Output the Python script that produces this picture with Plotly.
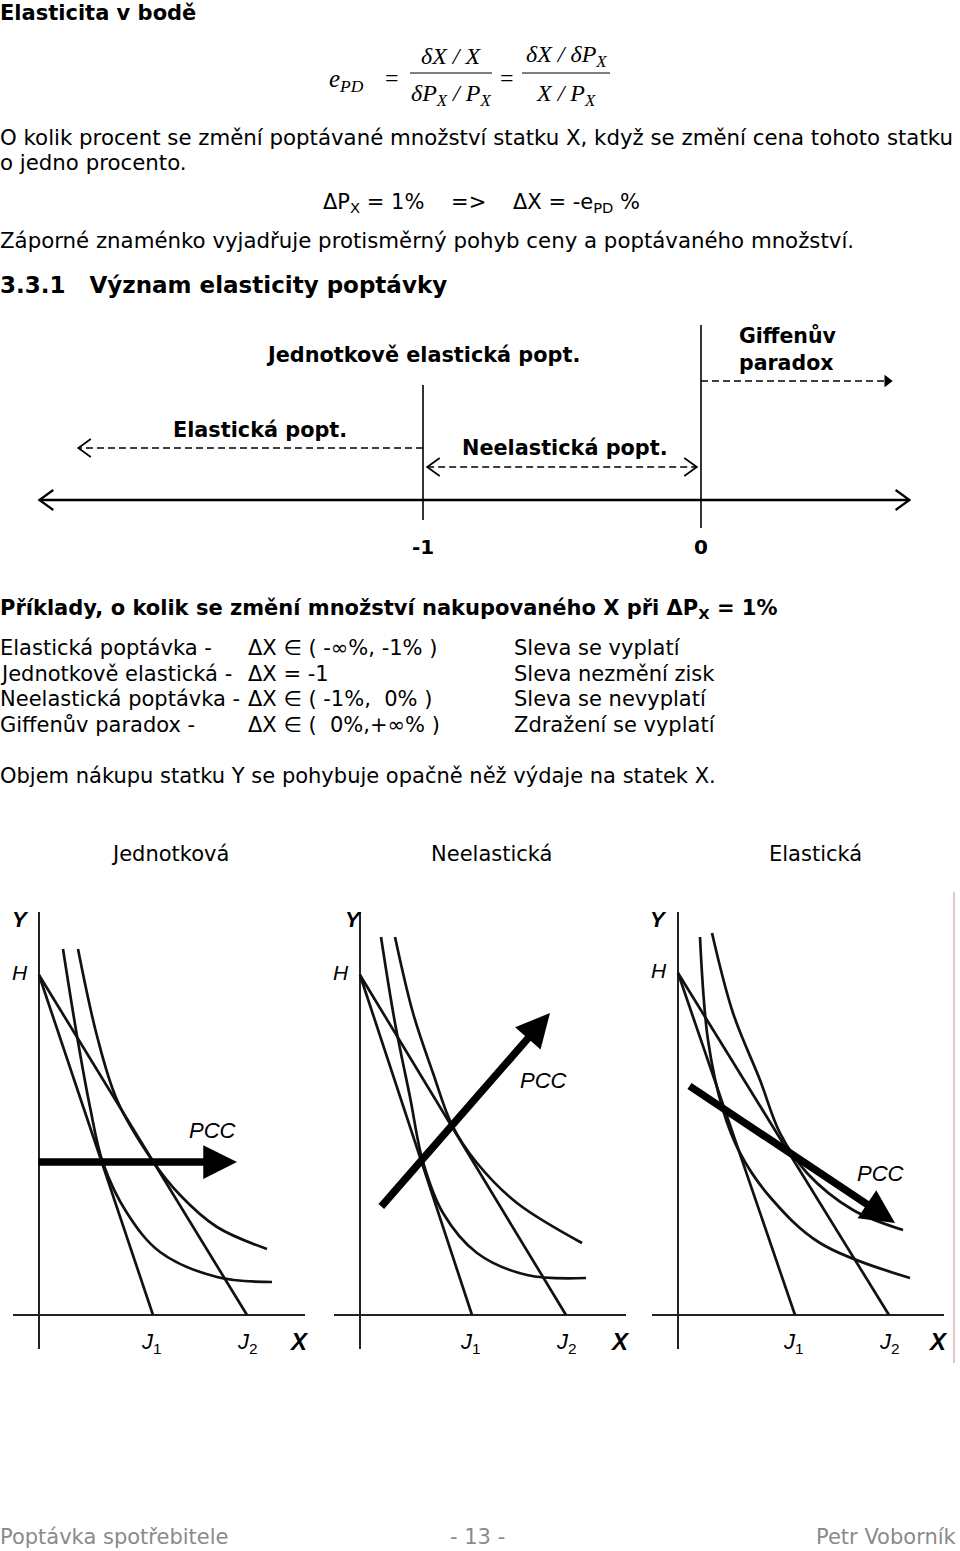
import plotly.graph_objects as go

W, H = 960, 1551

# --- data ---
thresholds = [-1, 0]
threshold_labels = ["-1", "0"]
number_line = [-2.38, 0.75]
elastic_arrow = [-1, -2.24]
inelastic_arrow = [-0.985, -0.015]
giffen_arrow = [0, 0.67]

table_rows = [
    ["Elastická poptávka -", "ΔX ∈ ( -∞%, -1% )", "Sleva se vyplatí"],
    ["Jednotkově elastická -", "ΔX = -1", "Sleva nezmění zisk"],
    ["Neelastická poptávka -", "ΔX ∈ ( -1%,  0% )", "Sleva se nevyplatí"],
    ["Giffenův paradox -", "ΔX ∈ (  0%,+∞% )", "Zdražení se vyplatí"],
]

panel_titles = ["Jednotková", "Neelastická", "Elastická"]
h_values = [34.0, 34.0, 34.2]
j1_values = [11.4, 11.2, 11.7]
j2_values = [20.8, 20.6, 21.1]

ic1_x = [[2.4, 3.8, 5.1, 6.4, 8.8, 12.1, 17.8, 23.3],
         [2.1, 3.5, 5.0, 6.3, 8.3, 11.7, 16.7, 22.6],
         [2.2, 3.0, 4.5, 6.2, 9.2, 14.2, 23.2]]
ic1_y = [[36.6, 27.9, 20.8, 15.2, 10.2, 6.3, 3.8, 3.3],
         [37.8, 29.2, 21.8, 15.3, 10.2, 6.2, 4.0, 3.7],
         [37.8, 27.5, 20.5, 16.2, 11.8, 7.2, 3.7]]
ic2_x = [[3.9, 5.8, 7.8, 11.3, 14.1, 17.8, 22.8],
         [3.5, 5.3, 7.3, 9.2, 11.7, 15.7, 22.2],
         [3.4, 5.5, 8.2, 10.2, 12.9, 17.5, 22.5]]
ic2_y = [[36.6, 27.9, 21.5, 15.5, 12.0, 8.8, 6.6],
         [37.8, 30.2, 24.2, 19.0, 15.2, 11.2, 7.2],
         [38.2, 30.2, 23.5, 18.2, 14.2, 10.5, 8.5]]
pcc_start = [(-0.2, 15.3), (2.0, 10.7), (1.0, 23.0)]
pcc_end = [(19.8, 15.3), (19.0, 30.2), (21.7, 9.2)]
pcc_label = [(17.3, 18.5), (18.3, 23.5), (20.2, 14.2)]
y_label_x = [-1.9, -0.7, -2.0]

# --- page helpers ---
BODY = "DejaVu Sans, Verdana, sans-serif"
SERIF = "Liberation Serif, Times New Roman, serif"
ARIAL = "Liberation Sans, Arial, sans-serif"
NB = "\u00a0"
FS = 21


def px(x):
    return x / W


def py(y):
    return 1 - y / H


annotations = []
shapes = []


def txt(x, y, s, size=FS, family=BODY, color="black", anchor="left"):
    annotations.append(dict(xref="paper", yref="paper", x=px(x), y=py(y), text=s.replace("  ", NB * 2),
                            showarrow=False, xanchor=anchor, yanchor="middle", borderpad=0,
                            font=dict(family=family, size=size, color=color)))


fig = go.Figure()

# header + formula
txt(-1, 13, "<b>Elasticita v bodě</b>", size=21)
txt(328, 80, "<i>e</i><sub><i>PD</i></sub>", size=25, family=SERIF)
txt(392, 78, "=", size=24, family=SERIF, anchor="center")
txt(451, 56, "<i>δX / X</i>", size=24, family=SERIF, anchor="center")
txt(451, 95, "<i>δP<sub>X</sub> / P<sub>X</sub></i>", size=24, family=SERIF, anchor="center")
txt(507, 78, "=", size=24, family=SERIF, anchor="center")
txt(566, 56, "<i>δX / δP<sub>X</sub></i>", size=24, family=SERIF, anchor="center")
txt(566, 95, "<i>X / P<sub>X</sub></i>", size=24, family=SERIF, anchor="center")
for x0, x1 in [(410, 492), (522, 610)]:
    shapes.append(dict(type="line", xref="paper", yref="paper", x0=px(x0), x1=px(x1),
                       y0=py(73), y1=py(73), line=dict(color="black", width=1.2)))

txt(-1, 138, "O kolik procent se změní poptávané množství statku X, když se změní cena tohoto statku", size=21.3)
txt(-1, 163, "o jedno procento.", size=21.3)
txt(322, 203, "ΔP<sub>X</sub> = 1%" + NB * 4 + "=>" + NB * 4 + "ΔX = -e<sub>PD</sub> %")
txt(-1, 241, "Záporné znaménko vyjadřuje protisměrný pohyb ceny a poptávaného množství.", size=21.3)
txt(-1, 285, "<b>3.3.1" + NB * 3 + "Význam elasticity poptávky</b>", size=23)

txt(-1, 609, "<b>Příklady, o kolik se změní množství nakupovaného X při ΔP<sub>X</sub> = 1%</b>", size=21)
for i, row in enumerate(table_rows):
    yy = 648 + i * 25.7
    for xx, cell in zip([-1, 247, 513], row):
        txt(xx, yy, cell)
txt(-1, 776, "Objem nákupu statku Y se pohybuje opačně něž výdaje na statek X.")

for cx, t in zip([170, 492, 815], panel_titles):
    txt(cx, 854, t, anchor="center")

txt(-1, 1537, "Poptávka spotřebitele", color="#8a8a8a")
txt(477, 1537, "- 13 -", color="#8a8a8a", anchor="center")
txt(958, 1537, "Petr Voborník", color="#8a8a8a", anchor="right")

shapes.append(dict(type="line", xref="paper", yref="paper", x0=px(954), x1=px(954),
                   y0=py(892), y1=py(1363), line=dict(color="#dcb4b4", width=1.5)))

# --- number line (own axis: -1 at 423 px, 0 at 701 px) ---
unit = 278.0
nl = dict(xaxis="x4", yaxis="y4", mode="lines", hoverinfo="skip", showlegend=False)


def chevron(x_tip, y, direction, dx=0.045, dy=9):
    xb = x_tip - direction * dx
    return [xb, x_tip, xb], [y + dy, y, y - dy]


fig.add_trace(go.Scatter(x=number_line, y=[60, 60], line=dict(color="black", width=2.4), **nl))
for xt, d in [(number_line[0], -1), (number_line[1], 1)]:
    cx, cy = chevron(xt, 60, d, dx=0.05, dy=10)
    fig.add_trace(go.Scatter(x=cx, y=cy, line=dict(color="black", width=2.2), **nl))
for t, lab, (y0, y1) in zip(thresholds, threshold_labels, [(40, 175), (32, 235)]):
    fig.add_trace(go.Scatter(x=[t, t], y=[y0, y1], line=dict(color="black", width=1.6), **nl))
    annotations.append(dict(xref="x4", yref="y4", x=t, y=13, text="<b>%s</b>" % lab,
                            showarrow=False, font=dict(family=BODY, size=20, color="black")))

dash = dict(color="black", width=1.7, dash="7px,4px")
fig.add_trace(go.Scatter(x=elastic_arrow, y=[112, 112], line=dash, **nl))
cx, cy = chevron(elastic_arrow[1], 112, -1)
fig.add_trace(go.Scatter(x=cx, y=cy, line=dict(color="black", width=1.7), **nl))
fig.add_trace(go.Scatter(x=inelastic_arrow, y=[93, 93], line=dash, **nl))
for xt, d in [(inelastic_arrow[0], -1), (inelastic_arrow[1], 1)]:
    cx, cy = chevron(xt, 93, d)
    fig.add_trace(go.Scatter(x=cx, y=cy, line=dict(color="black", width=1.7), **nl))
fig.add_trace(go.Scatter(x=giffen_arrow, y=[179, 179], line=dash, **nl))
fig.add_trace(go.Scatter(x=[giffen_arrow[1]], y=[179], mode="markers", xaxis="x4", yaxis="y4",
                         marker=dict(symbol="triangle-right", size=11, color="black"),
                         hoverinfo="skip", showlegend=False))

for x, y, s, anc in [(-1, 205, "Jednotkově elastická popt.", "center"),
                     (-1.586, 130, "Elastická popt.", "center"),
                     (-0.862, 112, "Neelastická popt.", "left")]:
    annotations.append(dict(xref="x4", yref="y4", x=x, y=y, text="<b>%s</b>" % s, showarrow=False,
                            xanchor=anc, borderpad=0, font=dict(family=BODY, size=20.8, color="black")))
annotations.append(dict(xref="x4", yref="y4", x=0.133, y=211, text="<b>Giffenův<br>paradox</b>",
                        showarrow=False, xanchor="left", align="left", borderpad=0,
                        font=dict(family=BODY, size=20.5, color="black")))

layout_axes = dict(
    xaxis4=dict(domain=[0, 1], range=[-1 - 423 / unit, -1 + (W - 423) / unit], visible=False),
    yaxis4=dict(domain=[py(560), py(320)], range=[0, 240], visible=False),
)

# --- three PCC diagrams ---
origins = [(39, 1315), (360, 1315), (678, 1315)]
for i, (ox, oy) in enumerate(origins):
    k = "" if i == 0 else str(i + 1)
    xa, ya = "x" + k, "y" + k
    layout_axes["xaxis" + k] = dict(domain=[px(ox - 26), px(ox + 266)], range=[-2.6, 26.6],
                                    anchor=ya, showgrid=False, showticklabels=False, ticks="",
                                    zeroline=True, zerolinecolor="#222", zerolinewidth=1.6, showline=False)
    layout_axes["yaxis" + k] = dict(domain=[py(oy + 34), py(oy - 403)], range=[-3.4, 40.3],
                                    anchor=xa, showgrid=False, showticklabels=False, ticks="",
                                    zeroline=True, zerolinecolor="#222", zerolinewidth=1.6, showline=False)
    common = dict(xaxis=xa, yaxis=ya, mode="lines", hoverinfo="skip", showlegend=False)
    for j in (j1_values[i], j2_values[i]):
        fig.add_trace(go.Scatter(x=[0, j], y=[h_values[i], 0], line=dict(color="#111", width=2.7), **common))
    for cx, cy in [(ic1_x[i], ic1_y[i]), (ic2_x[i], ic2_y[i])]:
        fig.add_trace(go.Scatter(x=cx, y=cy, line=dict(color="#111", width=2.7, shape="spline", smoothing=1.0),
                                 **common))
    annotations.append(dict(xref=xa, yref=ya, axref=xa, ayref=ya, x=pcc_end[i][0], y=pcc_end[i][1],
                            ax=pcc_start[i][0], ay=pcc_start[i][1], text="", showarrow=True,
                            arrowhead=2, arrowsize=0.9, arrowwidth=7.5, arrowcolor="black"))
    lab = dict(family=ARIAL, color="black")
    annotations += [
        dict(xref=xa, yref=ya, x=pcc_label[i][0], y=pcc_label[i][1], text="<i>PCC</i>", showarrow=False,
             font=dict(size=22, **lab)),
        dict(xref=xa, yref=ya, x=y_label_x[i], y=39.6, text="<b><i>Y</i></b>", showarrow=False,
             font=dict(size=22, **lab)),
        dict(xref=xa, yref=ya, x=-1.9, y=h_values[i] + 0.3, text="<i>H</i>", showarrow=False,
             font=dict(size=21, **lab)),
        dict(xref=xa, yref=ya, x=j1_values[i] - 0.2, y=-2.8, text="<i>J</i><sub>1</sub>", showarrow=False,
             font=dict(size=22, **lab)),
        dict(xref=xa, yref=ya, x=j2_values[i], y=-2.8, text="<i>J</i><sub>2</sub>", showarrow=False,
             font=dict(size=22, **lab)),
        dict(xref=xa, yref=ya, x=26.0, y=-2.6, text="<b><i>X</i></b>", showarrow=False,
             font=dict(size=24, **lab)),
    ]

fig.update_layout(width=W, height=H, margin=dict(l=0, r=0, t=0, b=0), paper_bgcolor="white",
                  plot_bgcolor="rgba(0,0,0,0)", showlegend=False, annotations=annotations, shapes=shapes,
                  **layout_axes)
fig.write_html("out.html", config={"displayModeBar": False},
               post_script="document.body.style.margin='0px';")
